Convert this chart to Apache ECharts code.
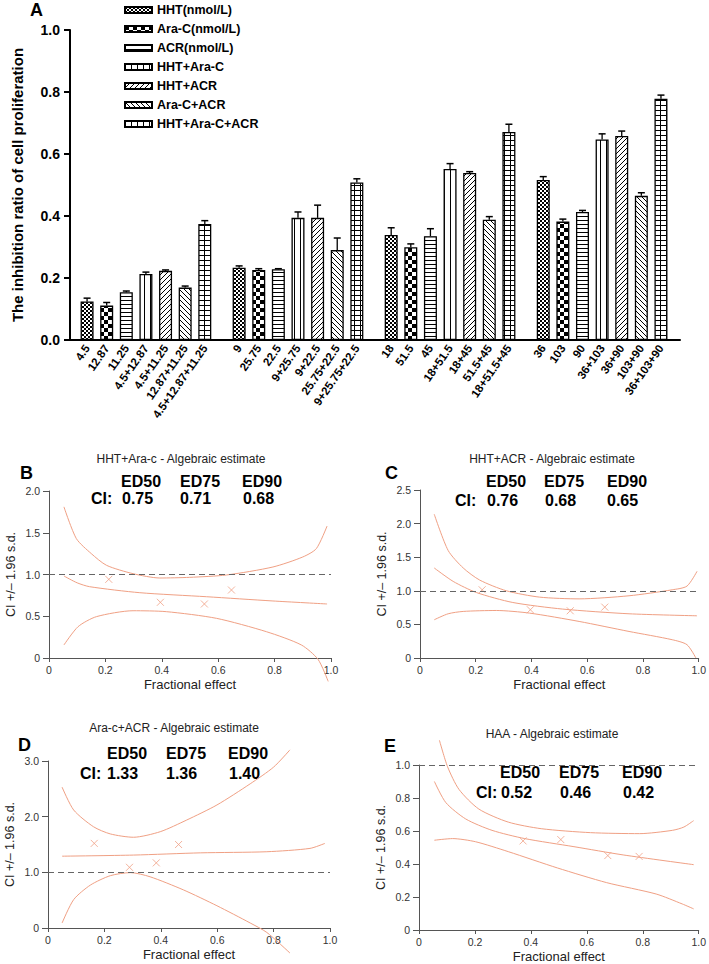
<!DOCTYPE html>
<html><head><meta charset="utf-8">
<script src="https://cdn.jsdelivr.net/npm/echarts@6/dist/echarts.min.js"></script>
<style>html,body{margin:0;padding:0;background:#fff}#c{width:709px;height:964px}</style>
</head><body><div id="c"></div>
<script>
// ---------- Panel A data ----------
const seriesNames = ['HHT(nmol/L)','Ara-C(nmol/L)','ACR(nmol/L)','HHT+Ara-C','HHT+ACR','Ara-C+ACR','HHT+Ara-C+ACR'];
const group1Labels = ['4.5','12.87','11.25','4.5+12.87','4.5+11.25','12.87+11.25','4.5+12.87+11.25'];
const group2Labels = ['9','25.75','22.5','9+25.75','9+22.5','25.75+22.5','9+25.75+22.5'];
const group3Labels = ['18','51.5','45','18+51.5','18+45','51.5+45','18+51.5+45'];
const group4Labels = ['36','103','90','36+103','36+90','103+90','36+103+90'];
// values per series across the 4 dose groups
const hhtVals   = [0.124, 0.233, 0.339, 0.516];
const araVals   = [0.111, 0.226, 0.299, 0.382];
const acrVals   = [0.154, 0.228, 0.335, 0.413];
const hhtAraVals = [0.213, 0.394, 0.552, 0.647];
const hhtAcrVals = [0.223, 0.394, 0.539, 0.658];
const araAcrVals = [0.169, 0.290, 0.388, 0.465];
const allVals    = [0.374, 0.508, 0.671, 0.778];
const hhtErr    = [0.011, 0.006, 0.023, 0.011];
const araErr    = [0.010, 0.004, 0.011, 0.008];
const acrErr    = [0.004, 0.002, 0.024, 0.005];
const hhtAraErr = [0.006, 0.019, 0.017, 0.018];
const hhtAcrErr = [0.003, 0.041, 0.004, 0.016];
const araAcrErr = [0.005, 0.039, 0.010, 0.010];
const allErr    = [0.011, 0.012, 0.025, 0.012];

// ---------- Panels B-E data ----------
const bUpper = [[0.053,1.81],[0.097,1.43],[0.15,1.25],[0.204,1.11],[0.298,1.01],[0.393,0.958],[0.499,0.966],[0.629,0.994],[0.794,1.09],[0.9,1.21],[0.948,1.31],[0.986,1.58]];
const bMid   = [[0.053,0.982],[0.1,0.9],[0.144,0.854],[0.322,0.782],[0.558,0.734],[0.794,0.683],[0.986,0.647]];
const bLower = [[0.053,0.156],[0.103,0.375],[0.168,0.495],[0.298,0.566],[0.416,0.555],[0.594,0.475],[0.771,0.315],[0.895,0.156],[0.954,-0.016],[0.99,-0.28]];
const bPts   = [[0.212,0.942],[0.395,0.667],[0.551,0.647],[0.647,0.814]];

const cUpper = [[0.051,2.14],[0.101,1.60],[0.155,1.34],[0.214,1.16],[0.31,1.00],[0.429,0.906],[0.571,0.88],[0.75,0.926],[0.905,1.015],[0.958,1.07],[0.994,1.29]];
const cMid   = [[0.051,1.34],[0.119,1.14],[0.202,0.975],[0.333,0.826],[0.512,0.728],[0.75,0.658],[0.994,0.628]];
const cLower = [[0.051,0.569],[0.101,0.658],[0.155,0.693],[0.274,0.707],[0.393,0.668],[0.571,0.544],[0.75,0.395],[0.905,0.272],[0.958,0.198],[0.99,0.0]];
const cPts   = [[0.223,1.015],[0.396,0.718],[0.539,0.703],[0.663,0.757]];

const dUpper = [[0.05,2.53],[0.091,2.12],[0.161,1.82],[0.221,1.69],[0.303,1.63],[0.398,1.73],[0.492,1.94],[0.599,2.21],[0.717,2.59],[0.8,2.89],[0.858,3.2]];
const dMid   = [[0.05,1.29],[0.303,1.31],[0.54,1.35],[0.776,1.37],[0.929,1.43],[0.982,1.52]];
const dLower = [[0.05,0.09],[0.091,0.51],[0.15,0.77],[0.221,0.94],[0.292,0.995],[0.362,0.92],[0.48,0.685],[0.599,0.40],[0.717,0.09],[0.776,-0.08],[0.858,-0.45]];
const dPts   = [[0.164,1.52],[0.289,1.09],[0.384,1.17],[0.463,1.50]];

const eUpper = [[0.073,1.15],[0.102,0.99],[0.143,0.852],[0.214,0.733],[0.319,0.654],[0.437,0.614],[0.613,0.59],[0.789,0.584],[0.906,0.604],[0.947,0.624],[0.982,0.663]];
const eMid   = [[0.055,0.90],[0.096,0.772],[0.167,0.673],[0.261,0.604],[0.378,0.554],[0.554,0.505],[0.73,0.455],[0.982,0.396]];
const eLower = [[0.055,0.544],[0.12,0.554],[0.202,0.535],[0.319,0.475],[0.495,0.376],[0.671,0.287],[0.848,0.218],[0.941,0.158],[0.982,0.128]];
const ePts   = [[0.372,0.54],[0.507,0.548],[0.675,0.451],[0.787,0.446]];

const panelTitles = ['HHT+Ara-c - Algebraic estimate','HHT+ACR - Algebraic estimate','Ara-c+ACR - Algebraic estimate','HAA - Algebraic estimate'];
const panelLetters = ['B','C','D','E'];
const edLabels = ['ED50','ED75','ED90'];
const ciB = ['0.75','0.71','0.68'];
const ciC = ['0.76','0.68','0.65'];
const ciD = ['1.33','1.36','1.40'];
const ciE = ['0.52','0.46','0.42'];
const yMaxes = [2.0, 2.5, 3.0, 1.0];
const yIntervals = [0.5, 0.5, 1.0, 0.2];

// ---------- build ----------
const FONT = 'Arial, "Liberation Sans", Helvetica, sans-serif';
const groupLabels = [group1Labels, group2Labels, group3Labels, group4Labels];
const barValues = [hhtVals, araVals, acrVals, hhtAraVals, hhtAcrVals, araAcrVals, allVals];
const barErrs = [hhtErr, araErr, acrErr, hhtAraErr, hhtAcrErr, araAcrErr, allErr];
const pos = (g, i) => 1 + g * 7.75 + i;
const tickPositions = [], tickTexts = [];
groupLabels.forEach((arr, g) => arr.forEach((t, i) => { tickPositions.push(pos(g, i)); tickTexts.push(t); }));

function makePattern(kind) {
  const c = document.createElement('canvas');
  const sizes = {fine:[4,4], big:[8,8], h:[4,4], v:[6,6], diagR:[5,5], diagL:[5,5], grid:[6,5]};
  const [w, h] = sizes[kind];
  c.width = w; c.height = h;
  const x = c.getContext('2d');
  x.fillStyle = '#fff'; x.fillRect(0, 0, w, h);
  x.fillStyle = '#000'; x.strokeStyle = '#000'; x.lineWidth = 1;
  if (kind === 'fine') { x.fillRect(0,0,2,2); x.fillRect(2,2,2,2); }
  else if (kind === 'big') { x.fillRect(0,0,4,4); x.fillRect(4,4,4,4); }
  else if (kind === 'h') { x.fillRect(0,0,w,1); }
  else if (kind === 'v') { x.fillRect(0,0,1,h); }
  else if (kind === 'grid') { x.fillRect(0,0,w,1); x.fillRect(0,0,1,h); }
  else if (kind === 'diagR') {
    x.beginPath(); x.moveTo(-1,6); x.lineTo(6,-1); x.moveTo(-1,1); x.lineTo(1,-1); x.moveTo(4,6); x.lineTo(6,4); x.stroke();
  } else if (kind === 'diagL') {
    x.beginPath(); x.moveTo(-1,-1); x.lineTo(6,6); x.moveTo(4,-1); x.lineTo(6,1); x.moveTo(-1,4); x.lineTo(1,6); x.stroke();
  }
  return c;
}
const patternKinds = ['fine','big','h','v','diagR','diagL','grid'];

const series = [];
seriesNames.forEach((nm, k) => {
  series.push({
    name: nm, type: 'bar', xAxisIndex: 0, yAxisIndex: 0,
    barWidth: 13, barGap: '-100%',
    data: barValues[k].map((v, g) => [pos(g, k), v]),
    itemStyle: { color: { image: makePattern(patternKinds[k]), repeat: 'repeat' }, borderColor: '#000', borderWidth: 1.3 },
    emphasis: { disabled: true }
  });
});
const errData = [];
barValues.forEach((vals, k) => vals.forEach((v, g) => errData.push([pos(g, k), v, barErrs[k][g]])));
series.push({
  type: 'custom', xAxisIndex: 0, yAxisIndex: 0, z: 5, silent: true,
  data: errData,
  renderItem: (params, api) => {
    const p = api.coord([api.value(0), api.value(1)]);
    const q = api.coord([api.value(0), api.value(1) + api.value(2)]);
    return { type: 'group', children: [
      { type: 'line', shape: { x1: p[0], y1: p[1], x2: q[0], y2: q[1] }, style: { stroke: '#000', lineWidth: 1.3 } },
      { type: 'line', shape: { x1: q[0] - 3.5, y1: q[1], x2: q[0] + 3.5, y2: q[1] }, style: { stroke: '#000', lineWidth: 1.5 } }
    ]};
  }
});

const SALMON = '#f0a084';
const panels = [
  [bUpper, bMid, bLower, bPts],
  [cUpper, cMid, cLower, cPts],
  [dUpper, dMid, dLower, dPts],
  [eUpper, eMid, eLower, ePts]
];
const grids = [
  { left: 70, top: 30, width: 610, height: 310 },
  { left: 49, top: 491, width: 282, height: 167 },
  { left: 420, top: 490, width: 280, height: 168 },
  { left: 48, top: 761, width: 282, height: 167 },
  { left: 419, top: 765, width: 284, height: 168 }
];
const fmt0 = v => (Math.abs(v) < 1e-9 ? '0' : v.toFixed(1));
const xAxes = [{
  gridIndex: 0, type: 'value', min: 0.13, max: 31.22,
  axisLine: { lineStyle: { color: '#000', width: 2 } },
  axisTick: { show: false }, splitLine: { show: false },
  axisLabel: {
    customValues: tickPositions, rotate: 55, margin: 6, fontSize: 11.5, fontWeight: 'bold', color: '#000', fontFamily: FONT,
    formatter: v => { const i = tickPositions.findIndex(p => Math.abs(p - v) < 1e-6); return i >= 0 ? tickTexts[i] : ''; }
  }
}];
const yAxes = [{
  gridIndex: 0, type: 'value', min: 0, max: 1, interval: 0.2,
  axisLine: { show: true, lineStyle: { color: '#000', width: 2 } },
  axisTick: { show: true, length: 6, lineStyle: { width: 2, color: '#000' } },
  axisLabel: { fontSize: 14, fontWeight: 'bold', color: '#000', margin: 10, fontFamily: FONT, formatter: v => v.toFixed(1) },
  splitLine: { show: false },
  name: 'The inhibition ratio of cell proliferation', nameLocation: 'middle', nameGap: 45,
  nameTextStyle: { fontSize: 15, fontWeight: 'bold', color: '#000', fontFamily: FONT }
}];

panels.forEach((pd, j) => {
  const gi = j + 1;
  xAxes.push({
    gridIndex: gi, type: 'value', min: 0, max: 1, interval: 0.2,
    axisLine: { lineStyle: { color: '#555', width: 1 } },
    axisTick: { show: true, length: 4, lineStyle: { color: '#555' } },
    axisLabel: { fontSize: 10.5, color: '#333', margin: 6, fontFamily: FONT, formatter: fmt0 },
    splitLine: { show: false },
    name: 'Fractional effect', nameLocation: 'middle', nameGap: 20,
    nameTextStyle: { fontSize: 13, color: '#222', fontFamily: FONT }
  });
  yAxes.push({
    gridIndex: gi, type: 'value', min: 0, max: yMaxes[j], interval: yIntervals[j],
    axisLine: { show: true, lineStyle: { color: '#555', width: 1 } },
    axisTick: { show: true, length: 6, lineStyle: { color: '#555' } },
    axisLabel: { fontSize: 10.5, color: '#333', margin: 9, fontFamily: FONT, formatter: fmt0 },
    splitLine: { show: false },
    name: 'CI +/\u2013 1.96 s.d.', nameLocation: 'middle', nameGap: 32,
    nameTextStyle: { fontSize: 12.5, color: '#222', fontFamily: FONT }
  });
  pd.slice(0, 3).forEach((curve, ci) => {
    const s = {
      type: 'line', xAxisIndex: gi, yAxisIndex: gi, data: curve, clip: false,
      showSymbol: false, smooth: 0.25, silent: true,
      lineStyle: { color: SALMON, width: 1 }
    };
    if (ci === 1) s.markLine = {
      silent: true, symbol: 'none', label: { show: false }, animation: false,
      lineStyle: { type: [6, 4], color: '#666', width: 1 }, data: [{ yAxis: 1 }]
    };
    series.push(s);
  });
  series.push({
    type: 'scatter', xAxisIndex: gi, yAxisIndex: gi, data: pd[3], silent: true,
    symbol: 'path://M0,0L10,10M10,0L0,10', symbolSize: 7,
    itemStyle: { color: 'rgba(0,0,0,0)', borderColor: SALMON, borderWidth: 1 }
  });
});

// annotation texts
const graphics = [];
const txt = (t, x, y, size, weight, color, align) => graphics.push({
  type: 'text', x: x, y: y, silent: true,
  style: { text: t, fontSize: size, fontWeight: weight || 'normal', fill: color || '#000', fontFamily: FONT, align: align || 'left', verticalAlign: 'middle' }
});
txt('A', 30, 10, 18, 'bold');
const titlePos = [[181, 459], [552, 459], [174, 728], [552, 734]];
const letterPos = [[20, 473], [385, 473], [18, 745], [384, 746]];
const edPos = [
  { ed: [121, 180, 242], edY: 481, ci: 91, vals: [122, 180, 243], ciY: 498 },
  { ed: [486, 544, 607], edY: 481, ci: 455, vals: [487, 545, 607], ciY: 500 },
  { ed: [107, 166, 228], edY: 753, ci: 80, vals: [107, 166, 229], ciY: 773 },
  { ed: [500, 559, 622], edY: 772, ci: 476, vals: [501, 560, 623], ciY: 792 }
];
const ciVals = [ciB, ciC, ciD, ciE];
panelTitles.forEach((t, j) => {
  txt(t, titlePos[j][0], titlePos[j][1], 12, 'normal', '#222', 'center');
  txt(panelLetters[j], letterPos[j][0], letterPos[j][1], 18, 'bold');
  const p = edPos[j];
  edLabels.forEach((e, k) => txt(e, p.ed[k], p.edY, 16, 'bold'));
  txt('CI:', p.ci, p.ciY, 16, 'bold');
  ciVals[j].forEach((v, k) => txt(v, p.vals[k], p.ciY, 16, 'bold'));
});

const chart = echarts.init(document.getElementById('c'), null, { renderer: 'svg' });
chart.setOption({
  animation: false,
  backgroundColor: '#fff',
  textStyle: { fontFamily: FONT },
  legend: {
    data: seriesNames, orient: 'vertical', left: 119, top: -2,
    itemWidth: 27, itemHeight: 6, itemGap: 5, icon: 'rect', selectedMode: false,
    textStyle: { fontSize: 12.5, fontWeight: 'bold', color: '#000', lineHeight: 14, fontFamily: FONT }
  },
  grid: grids,
  xAxis: xAxes,
  yAxis: yAxes,
  series: series,
  graphic: graphics
});
</script>
</body></html>
